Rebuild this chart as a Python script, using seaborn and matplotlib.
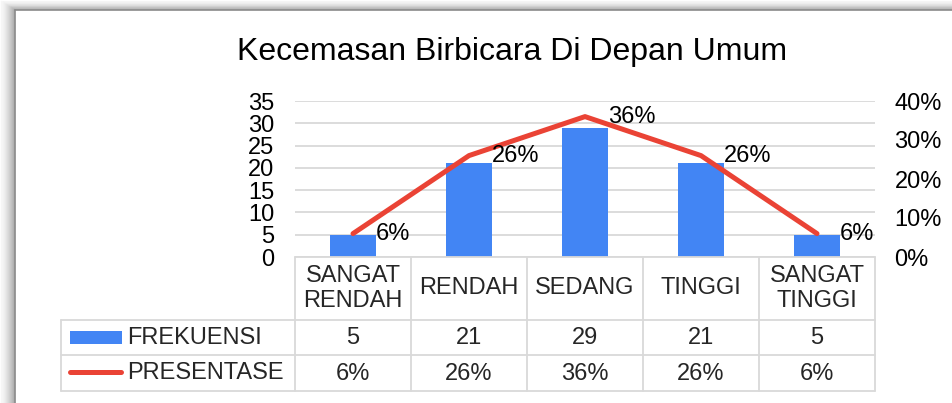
import numpy as np
import matplotlib
matplotlib.use("Agg")
import matplotlib.pyplot as plt
import seaborn as sns
from matplotlib.lines import Line2D
from matplotlib.patches import Rectangle
from matplotlib.ticker import FuncFormatter

sns.set_theme(style="white")
plt.rcParams['font.family'] = ['Liberation Sans', 'DejaVu Sans']

# data
kategori = ['SANGAT\nRENDAH', 'RENDAH', 'SEDANG', 'TINGGI', 'SANGAT\nTINGGI']
frekuensi = [5, 21, 29, 21, 5]
presentase = [0.06, 0.26, 0.36, 0.26, 0.06]
label_frek = ['5', '21', '29', '21', '5']
label_pres = ['6%', '26%', '36%', '26%', '6%']

BLUE = '#4285F4'
RED = '#EA4335'
GRID = '#D9D9D9'
W, H = 953, 403
FS = 17

def fx(x):
    return x / W

def fy(y):
    return 1 - y / H

fig = plt.figure(figsize=(W / 100, H / 100), dpi=100)
fig.patch.set_facecolor('white')

# plot area in pixels
L, R, T, B = 295, 875, 101, 257
ax = fig.add_axes([fx(L), fy(B), fx(R - L), (B - T) / H])

df_x = np.arange(len(kategori))
sns.barplot(x=df_x, y=frekuensi, color=BLUE, saturation=1, width=0.4, ax=ax,
            native_scale=True, linewidth=0, edgecolor='none')
ax.set_xlim(-0.5, 4.5)
ax.set_ylim(0, 35)
ax.set_yticks(range(0, 36, 5))
ax.set_xticks([])
ax.set_xlabel('')
ax.set_ylabel('')
ax.yaxis.grid(True, color=GRID, lw=1.3)
ax.set_axisbelow(True)
ax.tick_params(axis='y', length=0, pad=15, labelsize=FS, labelcolor='black')
for s in ax.spines.values():
    s.set_visible(False)

ax2 = ax.twinx()
sns.lineplot(x=df_x, y=presentase, color=RED, lw=3.6, ax=ax2)
ax2.set_ylim(0, 0.4)
ax2.set_xlim(-0.5, 4.5)
ax2.set_yticks([0, 0.1, 0.2, 0.3, 0.4])
ax2.yaxis.set_major_formatter(FuncFormatter(lambda v, p: f'{v*100:.0f}%'))
ax2.tick_params(axis='y', length=0, pad=14, labelsize=FS, labelcolor='black')
ax2.set_ylabel('')
for s in ax2.spines.values():
    s.set_visible(False)
for i, (v, t) in enumerate(zip(presentase, label_pres)):
    ax2.annotate(t, (i, v), xytext=(16.5, 0), textcoords='offset points',
                 ha='left', va='center', fontsize=FS, color='black')

fig.text(fx(512), fy(52), 'Kecemasan Birbicara Di Depan Umum', ha='center', va='center',
         fontsize=23, color='black')

# data table
def hline(y, x0, x1):
    fig.add_artist(Line2D([fx(x0), fx(x1)], [fy(y), fy(y)], color=GRID, lw=1.3))

def vline(x, y0, y1):
    fig.add_artist(Line2D([fx(x), fx(x)], [fy(y0), fy(y1)], color=GRID, lw=1.3))

TL = 61
rows = [257, 320, 355, 391]
col_w = (R - L) / 5
hline(rows[0], L, R)
for y in rows[1:]:
    hline(y, TL, R)
vline(TL, rows[1], rows[3])
for i in range(6):
    vline(L + i * col_w, rows[0], rows[3])

for i in range(5):
    cx = L + (i + 0.5) * col_w
    fig.text(fx(cx), fy((rows[0] + rows[1]) / 2), kategori[i], ha='center', va='center',
             fontsize=FS, linespacing=1.15)
    fig.text(fx(cx), fy((rows[1] + rows[2]) / 2 + 1), label_frek[i], ha='center', va='center', fontsize=FS)
    fig.text(fx(cx), fy((rows[2] + rows[3]) / 2 + 1), label_pres[i], ha='center', va='center', fontsize=FS)

fig.add_artist(Rectangle((fx(70), fy(344)), fx(52), 13 / H, color=BLUE, lw=0))
fig.add_artist(Line2D([fx(70), fx(121)], [fy(372), fy(372)], color=RED, lw=3.6, solid_capstyle='round'))
fig.text(fx(127), fy(338), 'FREKUENSI', ha='left', va='center', fontsize=FS)
fig.text(fx(127), fy(373), 'PRESENTASE', ha='left', va='center', fontsize=FS)

# chart frame with shadow on top / left
for i in range(14):
    g = 0.97 - 0.30 * (i / 13) ** 1.5
    fig.add_artist(Line2D([fx(15 - 14 + i)] * 2, [fy(10 - 9 + i * 9 / 14), 0], color=(g, g, g), lw=1.0))
    fig.add_artist(Line2D([fx(15 - 14 + i), 1], [fy(10 - 9 + i * 9 / 14)] * 2, color=(g, g, g), lw=0.8))
fig.add_artist(Line2D([fx(15), fx(15)], [fy(10), 0], color='#8C8C8C', lw=1.2))
fig.add_artist(Line2D([fx(15), 1], [fy(10), fy(10)], color='#8C8C8C', lw=1.2))

fig.savefig('out.png', dpi=100)
